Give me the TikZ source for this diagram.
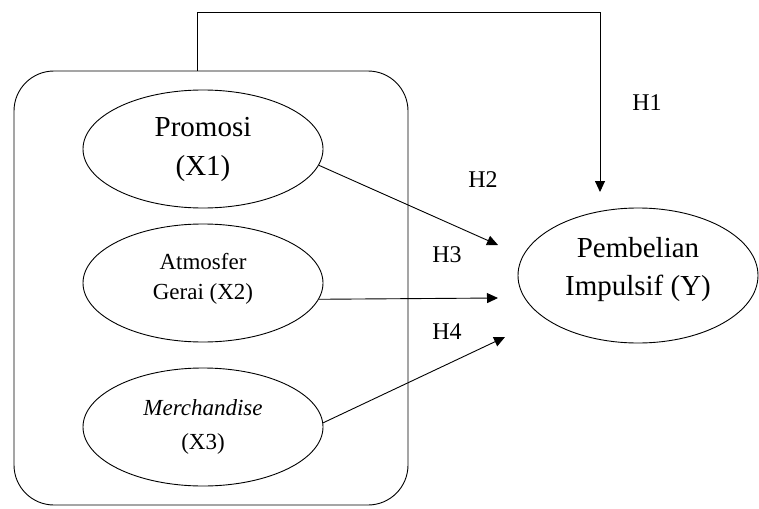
\documentclass[tikz,border=0pt]{standalone}
\usepackage{fontspec}
\setmainfont{Liberation Serif}
\usetikzlibrary{arrows.meta, positioning, calc, shapes.geometric}

\begin{document}
\begin{tikzpicture}[x=1pt, y=-1pt, line width=0.9pt,
  var/.style={draw, ellipse, minimum width=240pt, minimum height=118pt, inner sep=0pt, align=center},
  arr/.style={-{Triangle[length=11pt,width=10pt]}},
  hyp/.style={font=\fontsize{24}{28}\selectfont}]
\useasboundingbox (0,0) rectangle (759,508);
% Outer frame
\node[draw, rounded corners=40pt, minimum width=394pt, minimum height=434pt, inner sep=0pt] (frame) at (211,288) {};
% Independent variables
\node[var, font=\fontsize{29}{39}\selectfont] (x1) at (203,149) {Promosi\\(X1)};
\node[var, text depth=13pt, font=\fontsize{23}{30}\selectfont] (x2) at (203,283) {Atmosfer\\Gerai (X2)};
\node[var, font=\fontsize{23}{34}\selectfont] (x3) at (203,427) {\textit{Merchandise}\\(X3)};
% Dependent variable
\node[var, minimum height=135pt, text depth=18pt, font=\fontsize{29}{38}\selectfont] (y) at (638,275.5) {Pembelian\\Impulsif (Y)};
% Arrow ends
\coordinate (turn) at (600,12);
\coordinate (t1) at (600,192);
\coordinate (t2) at (498,245);
\coordinate (t3) at (498,298);
\coordinate (t4) at (505,337);
% Paths
\draw[arr] ([xshift=-14pt]frame.north) |- (turn) -- (t1);
\draw[arr] (x1.-8) -- (t2);
\draw[arr] (x2.-8) -- (t3);
\draw[arr] (x3.2) -- (t4);
% Hypotheses
\node[hyp] (h1) at (647,103) {H1};
\node[hyp] (h2) at (483,180) {H2};
\node[hyp] (h3) at (447,255) {H3};
\node[hyp] (h4) at (447,332) {H4};
\end{tikzpicture}
\end{document}
